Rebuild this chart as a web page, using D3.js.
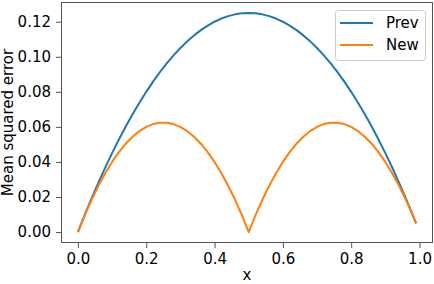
<!DOCTYPE html>
<html><head><meta charset="utf-8">
<script src="https://cdn.jsdelivr.net/npm/d3@7"></script>
<style>body{margin:0;background:#fff}text{font-family:"DejaVu Sans",sans-serif}</style>
</head><body>
<script>
const xs = [0,0.02,0.04,0.06,0.08,0.10,0.12,0.14,0.16,0.18,0.20,0.22,0.24,0.26,0.28,0.30,0.32,0.34,0.36,0.38,0.40,0.42,0.44,0.46,0.48,0.50,0.52,0.54,0.56,0.58,0.60,0.62,0.64,0.66,0.68,0.70,0.72,0.74,0.76,0.78,0.80,0.82,0.84,0.86,0.88,0.90,0.92,0.94,0.96,0.98,0.99];
const prev = [0,0.0098,0.0192,0.0282,0.0368,0.045,0.0528,0.0602,0.0672,0.0738,0.08,0.0858,0.0912,0.0962,0.1008,0.105,0.1088,0.1122,0.1152,0.1178,0.12,0.1218,0.1232,0.1242,0.1248,0.125,0.1248,0.1242,0.1232,0.1218,0.12,0.1178,0.1152,0.1122,0.1088,0.105,0.1008,0.0962,0.0912,0.0858,0.08,0.0738,0.0672,0.0602,0.0528,0.045,0.0368,0.0282,0.0192,0.0098,0.00495];
const neu = [0,0.0096,0.0184,0.0264,0.0336,0.04,0.0456,0.0504,0.0544,0.0576,0.06,0.0616,0.0624,0.0624,0.0616,0.06,0.0576,0.0544,0.0504,0.0456,0.04,0.0336,0.0264,0.0184,0.0096,0,0.0096,0.0184,0.0264,0.0336,0.04,0.0456,0.0504,0.0544,0.0576,0.06,0.0616,0.0624,0.0624,0.0616,0.06,0.0576,0.0544,0.0504,0.0456,0.04,0.0336,0.0264,0.0184,0.0096,0.0049];
const xTicks = [0.0,0.2,0.4,0.6,0.8,1.0];
const yTicks = [0.00,0.02,0.04,0.06,0.08,0.10,0.12];
const seriesNames = ["Prev","New"];
const colors = ["#1f77b4","#ff7f0e"];

const W=434,H=284, L=61, R=433, T=2, B=243;
const svg = d3.select("body").append("svg").attr("width",W).attr("height",H);
const x = d3.scaleLinear().domain([-0.0495,1.0395]).range([L,R]);
const y = d3.scaleLinear().domain([-0.00625,0.13125]).range([B,T]);
const fs = 15, axc="#555";

const line = d3.line().x((d,i)=>x(xs[i])).y(d=>y(d)).curve(d3.curveLinear);
[prev,neu].forEach((s,k)=>{
  svg.append("path").datum(s).attr("d",line).attr("fill","none")
    .attr("stroke",colors[k]).attr("stroke-width",2).attr("stroke-linejoin","round");
});

const xa = svg.append("g").attr("transform",`translate(0,${B})`)
  .call(d3.axisBottom(x).tickValues(xTicks).tickFormat(d3.format(".1f")).tickSize(5).tickPadding(5));
const ya = svg.append("g").attr("transform",`translate(${L},0)`)
  .call(d3.axisLeft(y).tickValues(yTicks).tickFormat(d3.format(".2f")).tickSize(5).tickPadding(5));
[xa,ya].forEach(a=>{
  a.select(".domain").remove();
  a.selectAll("line").attr("stroke",axc).attr("stroke-width",1);
  a.selectAll("text").attr("font-size",fs).attr("fill","#000").attr("font-family","DejaVu Sans");
});
svg.append("rect").attr("x",L+0.5).attr("y",T+0.5).attr("width",R-L-1).attr("height",B-T-1)
  .attr("fill","none").attr("stroke",axc).attr("stroke-width",1);

svg.append("text").attr("x",(L+R)/2).attr("y",280).attr("text-anchor","middle")
  .attr("font-size",fs).text("x");
svg.append("text").attr("transform",`translate(13,${(T+B)/2}) rotate(-90)`)
  .attr("text-anchor","middle").attr("font-size",fs).text("Mean squared error");

const lg = svg.append("g");
lg.append("rect").attr("x",335.5).attr("y",10.5).attr("width",90).attr("height",50).attr("rx",3)
  .attr("fill","#fff").attr("fill-opacity",0.8).attr("stroke","#ccc");
seriesNames.forEach((n,k)=>{
  const cy = 23 + k*22;
  lg.append("line").attr("x1",340).attr("x2",373).attr("y1",cy).attr("y2",cy)
    .attr("stroke",colors[k]).attr("stroke-width",2);
  lg.append("text").attr("x",386).attr("y",cy).attr("dy","0.35em").attr("font-size",fs).text(n);
});
</script>
</body></html>
